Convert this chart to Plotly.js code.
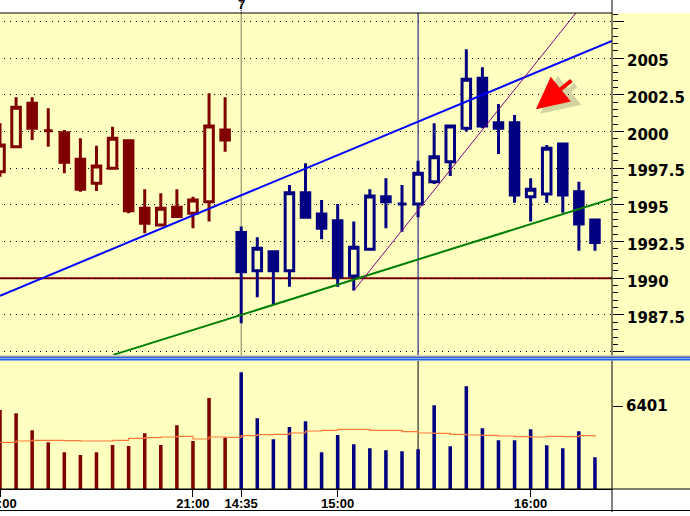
<!DOCTYPE html>
<html><head><meta charset="utf-8">
<script src="https://cdn.plot.ly/plotly-3.0.1.min.js"></script>
<style>html,body{margin:0;padding:0;background:#fff}#chart{width:690px;height:516px}</style>
</head><body><div id="chart"></div>
<script>
// bar number (5-minute bars) and session split
const bar = [0,1,2,3,4,5,6,7,8,9,10,11,12,13,14,15,16,17,18,19,20,21,22,23,24,25,26,27,28,29,30,31,32,33,34,35,36,37];
const firstBarToday = 15;

const openP  = [1997.26,1998.96,2001.92,2000.05,1999.92,1998.10,1996.47,1997.49,1999.37,1994.77,1993.63,1994.84,1994.43,1995.22,2000.10,
                1993.11,1990.52,1991.81,1990.52,1995.83,1994.38,1993.92,1990.16,1991.98,1995.56,1995.06,1995.06,1996.58,1997.94,2000.22,2003.62,2000.60,2000.60,1995.56,1995.74,1999.15,1995.90,1993.97];
const highP  = [2000.56,2002.33,2002.33,2001.58,2000.10,1999.54,1999.03,2000.33,1999.40,1996.06,1995.79,1996.06,1995.56,2002.60,2002.33,
                1993.52,1992.79,1991.81,1996.36,1997.83,1995.33,1995.06,1993.86,1996.06,1996.81,1996.36,1998.01,2000.56,2000.37,2005.60,2004.37,2001.87,2001.12,1996.81,1999.08,1999.15,1996.58,1994.00];
const lowP   = [1996.92,1998.90,1999.42,1998.96,1997.15,1995.90,1995.95,1997.40,1994.43,1993.07,1993.52,1994.20,1993.40,1993.86,1998.62,
                1986.93,1988.70,1988.25,1989.43,1994.16,1992.66,1989.43,1989.16,1991.98,1993.41,1993.17,1994.16,1996.42,1996.97,1999.99,2000.22,1998.47,1995.15,1993.86,1995.15,1994.47,1991.88,1991.88];
const closeP = [1999.08,2001.65,2000.22,2000.05,1997.90,1996.06,1997.65,1999.54,1994.60,1993.75,1994.77,1994.20,1995.33,2000.37,1999.42,
                1990.45,1992.04,1990.52,1995.83,1994.16,1993.41,1990.11,1992.11,1995.61,1995.22,1995.06,1997.15,1998.28,2000.37,2003.56,2000.37,2000.22,1995.67,1996.06,1998.86,1995.67,1993.70,1992.43];
const volume = [6093,5838,4527,3602,2830,2622,2830,3393,3316,4296,3393,4913,3702,7018,3933,
                9000,5452,3833,4781,5221,2830,4164,3447,3139,2985,2907,3062,6455,3293,7920,4681,3756,3756,4604,3370,3139,4450,2445];
const volumeAvg = [3600,3702,3756,3756,3730,3702,3702,3756,3910,3956,4010,4064,3856,4010,3985,
                   4113,4190,4215,4319,4473,4524,4601,4601,4524,4524,4421,4319,4293,4216,4164,4139,4087,4036,4010,4061,4036,4113,4010];

const tickBars   = [0, 12, 15, 21, 33];
const tickLabels = ['20:00', '21:00', '14:35', '15:00', '16:00'];
const priceTicks = [1985,1987.5,1990,1992.5,1995,1997.5,2000,2002.5,2005,2007.5];
const priceTickText = ['','1987.5','1990','1992.5','1995','1997.5','2000','2002.5','2005',''];
const volumeTicks = [6401];

// drawn objects (bar number, price)
const upperTrend   = [[0, 1988.81], [38.06, 2006.17]];
const lowerTrend   = [[7.05, 1984.78], [38.06, 1995.42]];
const steepTrend   = [[22, 1989.16], [36.2, 2008.6]];
const supportLevel = 1990;
const cursorBar    = 26;
const arrowTip     = [33.33, 2001.51];
const arrowShadowTip = [33.6, 2001.2];

const RED = '#800000', NAVY = '#000080', BG = '#ffffc0';
const prev = a => a.slice(0, firstBarToday);
const today = a => a.slice(firstBarToday);

function candle(sel, color) {
  return {type:'candlestick', x: sel(bar), open: sel(openP), high: sel(highP), low: sel(lowP), close: sel(closeP),
    xaxis:'x', yaxis:'y', whiskerwidth:0, hoverinfo:'skip',
    increasing:{line:{color:color, width:3}, fillcolor:BG},
    decreasing:{line:{color:color, width:3}, fillcolor:color}};
}
function vol(sel, color) {
  return {type:'bar', x: sel(bar), y: sel(volume), xaxis:'x', yaxis:'y2', width:0.22,
    marker:{color:color, line:{width:0}}, hoverinfo:'skip'};
}

const traces = [
  candle(prev, RED), candle(today, NAVY),
  vol(prev, RED), vol(today, NAVY),
  {type:'scatter', mode:'lines', x: bar, y: volumeAvg, xaxis:'x', yaxis:'y2',
   line:{color:'#ff7a3a', width:1.2, shape:'hv'}, hoverinfo:'skip'}
];

const xr = [0, 38.06];
const W = 690/612;
const PB = (489-355.5)/476, VT = (489-360.5)/476;
const py = p => (489-p)/476;
const sepX = firstBarToday / xr[1];

const shapes = [
  {type:'rect', xref:'paper', yref:'paper', x0:1, x1:W, y0:0, y1:1, fillcolor:BG, line:{width:0}, layer:'below'},
  {type:'line', xref:'x', yref:'y', x0:xr[0], x1:xr[1], y0:supportLevel, y1:supportLevel, line:{color:RED, width:2}, layer:'below'},
  {type:'line', xref:'x', yref:'y', x0:cursorBar, x1:cursorBar, y0:1984.74, y1:2008.07, line:{color:NAVY, width:1}, layer:'below'},
  {type:'line', xref:'x', yref:'y2', x0:cursorBar, x1:cursorBar, y0:0, y1:9910, line:{color:'#000', width:1}, layer:'below'},
  {type:'line', xref:'x', yref:'paper', x0:firstBarToday, x1:firstBarToday, y0:PB, y1:1, line:{color:'#000', width:1, dash:'1px,1px'}, layer:'below'},
  {type:'line', xref:'paper', yref:'paper', x0:sepX, x1:sepX, y0:1, y1:py(0), line:{color:'#000', width:1, dash:'1px,1px'}},
  {type:'line', xref:'x', yref:'y', x0:upperTrend[0][0], y0:upperTrend[0][1], x1:upperTrend[1][0], y1:upperTrend[1][1], line:{color:'#0000ff', width:2}},
  {type:'line', xref:'x', yref:'y', x0:lowerTrend[0][0], y0:lowerTrend[0][1], x1:lowerTrend[1][0], y1:lowerTrend[1][1], line:{color:'#008000', width:2}},
  {type:'line', xref:'x', yref:'y', x0:steepTrend[0][0], y0:steepTrend[0][1], x1:steepTrend[1][0], y1:steepTrend[1][1], line:{color:'#800080', width:1}},
  // frame
  {type:'line', xref:'paper', yref:'paper', x0:0, x1:1, y0:1, y1:1, line:{color:'#000', width:1}},
  {type:'line', xref:'paper', yref:'paper', x0:1, x1:1, y0:py(512), y1:py(0), line:{color:'#000', width:1}},
  {type:'line', xref:'paper', yref:'paper', x0:0, x1:W, y0:0, y1:0, line:{color:'#000', width:1}},
  {type:'line', xref:'paper', yref:'paper', x0:0, x1:W, y0:py(510.5), y1:py(510.5), line:{color:'#000', width:1}},
  // separator
  {type:'rect', xref:'paper', yref:'paper', x0:0, x1:W, y0:VT, y1:PB, fillcolor:'#ffffff', line:{width:0}},
  {type:'line', xref:'paper', yref:'paper', x0:0, x1:W, y0:py(356.2), y1:py(356.2), line:{color:'#a0a0a0', width:1.5}},
  {type:'line', xref:'paper', yref:'paper', x0:0, x1:W, y0:py(357.7), y1:py(357.7), line:{color:'#2060e0', width:1.5}},
  {type:'line', xref:'paper', yref:'paper', x0:0, x1:W, y0:py(359.8), y1:py(359.8), line:{color:'#2060e0', width:1.5}}
];

const annotations = [
  {xref:'x', yref:'paper', x:firstBarToday, y:py(4), text:'7', showarrow:false, yanchor:'middle', xanchor:'center',
   font:{family:'Liberation Sans', size:13, color:'#000', weight:'bold'}},
  {xref:'x', yref:'y', x:arrowShadowTip[0], y:arrowShadowTip[1], ax:37, ay:-30, text:'', showarrow:true,
   arrowhead:2, arrowsize:1.5, arrowwidth:5, arrowcolor:'rgba(40,40,40,0.2)', standoff:0},
  {xref:'x', yref:'y', x:arrowTip[0], y:arrowTip[1], ax:37, ay:-30, text:'', showarrow:true,
   arrowhead:2, arrowsize:1.6, arrowwidth:4, arrowcolor:'#ff0000', standoff:0}
];

const layout = {
  width:690, height:516, margin:{l:0, r:78, t:13, b:27, pad:0},
  paper_bgcolor:'#ffffff', plot_bgcolor:BG, showlegend:false,
  boxgap:0.24, boxgroupgap:0.3,
  xaxis:{range:xr, anchor:'y2', tickmode:'array', tickvals:tickBars, ticktext:tickLabels,
    ticks:'outside', ticklen:7, tickcolor:'#000', tickwidth:1, showgrid:false, zeroline:false,
    showline:true, linecolor:'#000', linewidth:1, rangeslider:{visible:false}, ticklabeloverflow:'allow',
    ticklabelstandoff:-5,
    tickfont:{family:'Liberation Sans, Arial', size:13, color:'#000', weight:'bold'}, fixedrange:true},
  yaxis:{domain:[PB, 1], range:[1984.74, 2008.07], side:'right', anchor:'x',
    tickmode:'array', tickvals:priceTicks, ticktext:priceTickText,
    ticks:'outside', ticklen:11, tickcolor:'#000', tickwidth:1,
    showgrid:true, gridcolor:'#000', gridwidth:1, griddash:'0px,4px,1px,1px', zeroline:false, showline:false,
    tickfont:{family:'DejaVu Sans', size:15, color:'#000', weight:'bold'}, ticklabelshift:3,
    minor:{tickmode:'linear', tick0:1985, dtick:0.5, ticks:'outside', ticklen:5, tickcolor:'#000', tickwidth:1, showgrid:false},
    fixedrange:true},
  yaxis2:{domain:[0, VT], range:[0, 9910], side:'right', anchor:'x',
    tickmode:'array', tickvals:volumeTicks, ticktext:volumeTicks.map(String),
    ticks:'outside', ticklen:10, tickcolor:'#000', tickwidth:1, showgrid:false, zeroline:false, showline:false,
    tickfont:{family:'DejaVu Sans', size:15, color:'#000', weight:'bold'}, fixedrange:true},
  shapes: shapes, annotations: annotations
};

Plotly.newPlot('chart', traces, layout, {staticPlot:true, displayModeBar:false});
</script></body></html>
